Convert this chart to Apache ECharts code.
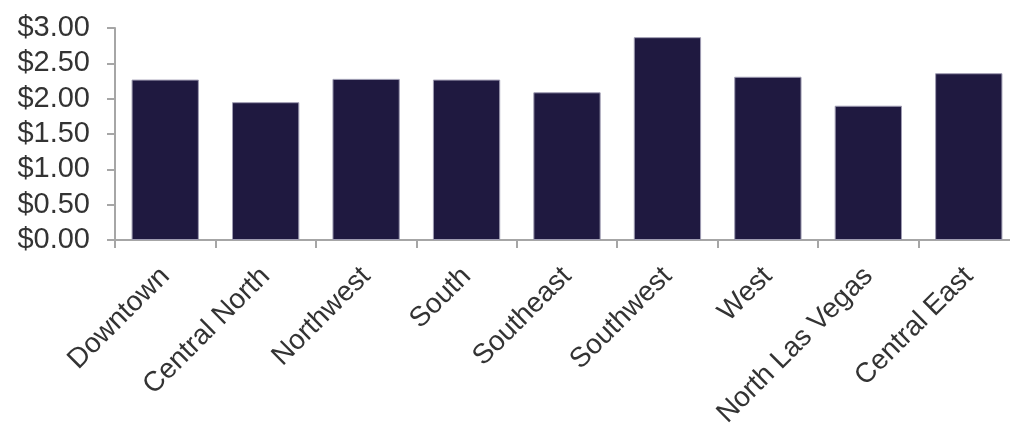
<!DOCTYPE html>
<html>
<head>
<meta charset="utf-8">
<script src="https://cdn.jsdelivr.net/npm/echarts@6/dist/echarts.min.js"></script>
<style>
  html, body { margin: 0; padding: 0; background: #fff; }
  #chart { width: 1010px; height: 427px; }
</style>
</head>
<body>
<div id="chart"></div>
<script>
const categories = ['Downtown', 'Central North', 'Northwest', 'South', 'Southeast', 'Southwest', 'West', 'North Las Vegas', 'Central East'];
const prices = [2.27, 1.95, 2.28, 2.27, 2.09, 2.87, 2.31, 1.90, 2.36];

const axisColor = '#a6a6a6';
const textColor = '#333333';

const chart = echarts.init(document.getElementById('chart'));
chart.setOption({
    animation: false,
    // plot runs past the right edge in the original, so fix its width
    grid: { left: 115, width: 904, top: 28, bottom: 187, containLabel: false, outerBoundsMode: 'none' },
    xAxis: {
        type: 'category',
        data: categories,
        axisLine: { lineStyle: { color: axisColor, width: 2 } },
        axisTick: { show: true, length: 8, lineStyle: { color: axisColor, width: 2 } },
        axisLabel: {
            rotate: 45,
            interval: 0,
            margin: 32,
            color: textColor,
            fontFamily: 'Liberation Sans, Arial, sans-serif',
            fontSize: 28
        }
    },
    yAxis: {
        type: 'value',
        min: 0,
        max: 3,
        interval: 0.5,
        axisLine: { show: true, lineStyle: { color: axisColor, width: 2 } },
        axisTick: { show: true, length: 8, lineStyle: { color: axisColor, width: 2 } },
        splitLine: { show: false },
        axisLabel: {
            margin: 25,
            color: textColor,
            fontFamily: 'Liberation Sans, Arial, sans-serif',
            fontSize: 29,
            formatter: v => '$' + v.toFixed(2)
        }
    },
    series: [{
        type: 'bar',
        data: prices,
        barCategoryGap: '33%',
        itemStyle: { color: '#1f1940', borderColor: '#9f9cb2', borderWidth: 1 }
    }]
});
</script>
</body>
</html>
